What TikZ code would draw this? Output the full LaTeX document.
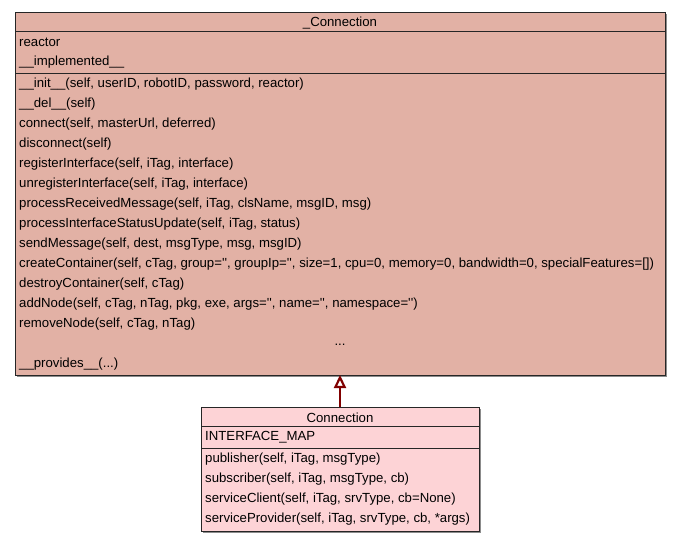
\documentclass[tikz,border=0pt]{standalone}
\usepackage{fontspec}
\setmainfont{Liberation Sans}[Ligatures=TeXOff]
\usetikzlibrary{arrows.meta, positioning, shadows}
\definecolor{basefill}{HTML}{E2B1A5}
\definecolor{subfill}{HTML}{FDD3D6}
\definecolor{inheritline}{HTML}{800000}
\definecolor{shadowgray}{HTML}{8C8C8C}
\newcommand{\uu}{\_\_}

\tikzset{
  compart/.style={draw=black!85, line width=0.9pt, inner sep=0pt, outer sep=0pt,
                  drop shadow={shadow xshift=2pt, shadow yshift=-2pt, fill=shadowgray, opacity=1}},
  member/.style={inner sep=0pt, anchor=west, yshift=-1.5pt, font=\fontsize{13.2}{15}\selectfont},
  classname/.style={inner sep=0pt, yshift=-1.5pt, font=\fontsize{13.2}{15}\selectfont},
  inherit/.style={draw=inheritline, line width=2.2pt, -{Triangle[open, length=13pt, width=12pt]}}
}

\begin{document}
\begin{tikzpicture}[x=1pt, y=-1pt]
  \useasboundingbox (0,0) rectangle (677,541);

  % base class _Connection
  \node[compart, fill=basefill, minimum width=650pt, minimum height=19pt, anchor=north west]
    (basetitle) at (15,12) {};
  \node[compart, fill=basefill, minimum width=650pt, minimum height=42pt, below=0pt of basetitle]
    (baseattr) {};
  \node[compart, fill=basefill, minimum width=650pt, minimum height=302pt, below=0pt of baseattr]
    (baseops) {};
  \node[classname] (basename) at (basetitle.center) {\_Connection};

  \foreach \a [count=\i from 0] in {reactor, \uu implemented\uu}
    \node[member] (baseattr\i) at ([xshift=4pt, yshift={-(10+20*\i)*1pt}]baseattr.north west) {\a};

  \foreach \m [count=\i from 0] in {
      {\uu init\uu(self, userID, robotID, password, reactor)},
      {\uu del\uu(self)},
      {connect(self, masterUrl, deferred)},
      {disconnect(self)},
      {registerInterface(self, iTag, interface)},
      {unregisterInterface(self, iTag, interface)},
      {processReceivedMessage(self, iTag, clsName, msgID, msg)},
      {processInterfaceStatusUpdate(self, iTag, status)},
      {sendMessage(self, dest, msgType, msg, msgID)},
      {createContainer(self, cTag, group='', groupIp='', size=1, cpu=0, memory=0, bandwidth=0, specialFeatures=[])},
      {destroyContainer(self, cTag)},
      {addNode(self, cTag, nTag, pkg, exe, args='', name='', namespace='')},
      {removeNode(self, cTag, nTag)}}
    \node[member] (baseop\i) at ([xshift=4pt, yshift={-(10+20*\i)*1pt}]baseops.north west) {\m};
  \node[classname] (basemore) at ([yshift=-270pt]baseops.north) {...};
  \node[member] (baseprov) at ([xshift=4pt, yshift=-290pt]baseops.north west) {\uu provides\uu(...)};

  % subclass Connection
  \node[compart, fill=subfill, minimum width=278pt, minimum height=19pt, anchor=north west]
    (subtitle) at (201,407) {};
  \node[compart, fill=subfill, minimum width=278pt, minimum height=22pt, below=0pt of subtitle]
    (subattr) {};
  \node[compart, fill=subfill, minimum width=278pt, minimum height=83pt, below=0pt of subattr]
    (subops) {};
  \node[classname] (subname) at (subtitle.center) {Connection};
  \node[member] (subattr0) at ([xshift=4pt, yshift=1pt]subattr.west) {INTERFACE\_MAP};

  \foreach \m [count=\i from 0] in {
      {publisher(self, iTag, msgType)},
      {subscriber(self, iTag, msgType, cb)},
      {serviceClient(self, iTag, srvType, cb=None)},
      {serviceProvider(self, iTag, srvType, cb, *args)}}
    \node[member] (subop\i) at ([xshift=4pt, yshift={-(10+20*\i)*1pt}]subops.north west) {\m};

  \draw[inherit] (subtitle.north -| basemore) -- (baseops.south -| basemore);
\end{tikzpicture}
\end{document}
